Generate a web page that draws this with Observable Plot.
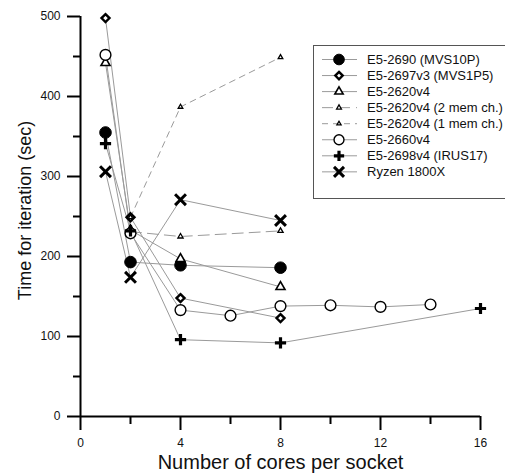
<!DOCTYPE html>
<html><head><meta charset="utf-8">
<script src="https://cdn.jsdelivr.net/npm/d3@7"></script>
<script src="https://cdn.jsdelivr.net/npm/@observablehq/plot@0.6"></script>
<style>
body{margin:0;background:#fff}
#chart svg{font-family:"Liberation Sans",Arial,sans-serif;display:block}
</style>
</head><body><div id="chart"></div>
<script>
// Series names (legend order)
const seriesNames = ["E5-2690 (MVS10P)", "E5-2697v3 (MVS1P5)", "E5-2620v4", "E5-2620v4 (2 mem ch.)", "E5-2620v4 (1 mem ch.)", "E5-2660v4", "E5-2698v4 (IRUS17)", "Ryzen 1800X"];

// Cores per socket and time per iteration (sec) for each series
const cores2690 = [1, 2, 4, 8];
const time2690 = [355, 193, 189, 186];
const cores2697 = [1, 2, 4, 8];
const time2697 = [498, 249, 148, 123];
const cores2620 = [1, 2, 4, 8];
const time2620 = [442, 233, 197, 162];
const cores2620m2 = [2, 4, 8];
const time2620m2 = [231, 225, 232];
const cores2620m1 = [2, 4, 8];
const time2620m1 = [249, 387, 449];
const cores2660 = [1, 2, 4, 6, 8, 10, 12, 14];
const time2660 = [452, 229, 133, 126, 138, 139, 137, 140];
const cores2698 = [1, 2, 4, 8, 16];
const time2698 = [341, 232, 96, 92, 135];
const coresRyzen = [1, 2, 4, 8];
const timeRyzen = [306, 174, 271, 245];

const xTicks = [0, 4, 8, 12, 16];
const xMinor = [2, 6, 10, 14];
const yTicks = [0, 100, 200, 300, 400, 500];
const yMinor = [50, 150, 250, 350, 450];

const allCores = [cores2690, cores2697, cores2620, cores2620m2, cores2620m1, cores2660, cores2698, coresRyzen];
const allTimes = [time2690, time2697, time2620, time2620m2, time2620m1, time2660, time2698, timeRyzen];

// styles per series
const styles = [
  {symbol: "circle", r: 5.8, fill: "black", stroke: "black", strokeWidth: 1, dash: null},
  {symbol: "diamond2", r: 3.6, fill: "white", stroke: "black", strokeWidth: 2.4, dash: null},
  {symbol: "triangle2", r: 4.3, fill: "white", stroke: "black", strokeWidth: 1.6, dash: null},
  {symbol: "triangle2", r: 2.5, fill: "white", stroke: "black", strokeWidth: 1.3, dash: "11,6"},
  {symbol: "triangle2", r: 2.2, fill: "white", stroke: "black", strokeWidth: 1.3, dash: "6,5"},
  {symbol: "circle", r: 5.4, fill: "white", stroke: "black", strokeWidth: 1.4, dash: null},
  {symbol: "plus", r: 3.7, fill: "none", stroke: "black", strokeWidth: 3.2, dash: null},
  {symbol: "times", r: 5.0, fill: "none", stroke: "black", strokeWidth: 3, dash: null}
];

const rows = seriesNames.map((name, i) => allCores[i].map((c, j) => ({series: name, cores: c, time: allTimes[i][j]})));

const marks = [];
// lines
rows.forEach((data, i) => {
  marks.push(Plot.line(data, {x: "cores", y: "time", stroke: "#9a9a9a", strokeWidth: 1, strokeDasharray: styles[i].dash || undefined}));
});
// axes lines and ticks
marks.push(Plot.ruleY([0], {stroke: "black", strokeWidth: 2}));
marks.push(Plot.ruleX([0], {stroke: "black", strokeWidth: 2}));
marks.push(Plot.axisX({ticks: xTicks, tickSize: 14, tickPadding: 8, strokeWidth: 2, fontSize: 12, fill: "#111", label: null}));
marks.push(Plot.tickX(xMinor, {x: d => d, insetTop: 400, insetBottom: -8, stroke: "black", strokeWidth: 2}));
marks.push(Plot.axisY({ticks: yTicks, tickSize: 13, tickPadding: 7, strokeWidth: 2, fontSize: 12, fill: "#111", label: null}));
marks.push(Plot.tickY(yMinor, {y: d => d, insetLeft: -7, insetRight: 400, stroke: "black", strokeWidth: 2}));
// dots
rows.forEach((data, i) => {
  const s = styles[i];
  marks.push(Plot.dot(data, {x: "cores", y: "time", symbol: () => s.symbol, r: s.r, fill: s.fill, stroke: s.stroke, strokeWidth: s.strokeWidth}));
});
// axis titles
marks.push(Plot.text(["Time for iteration (sec)"], {frameAnchor: "left", textAnchor: "middle", lineAnchor: "middle", dx: -55, dy: -6, rotate: -90, fontSize: 18, fill: "#111", text: d => d}));
marks.push(Plot.text(["Number of cores per socket"], {frameAnchor: "bottom", textAnchor: "middle", lineAnchor: "middle", dy: 46, fontSize: 20, fill: "#111", text: d => d}));

const chart = Plot.plot({
  width: 505,
  height: 474,
  marginLeft: 80,
  marginRight: 25,
  marginTop: 16,
  marginBottom: 58,
  x: {domain: [0, 16]},
  y: {domain: [0, 500]},
  symbol: {type: "identity"},
  style: {background: "white", fontFamily: "Liberation Sans, Arial, sans-serif"},
  marks
});
document.getElementById("chart").appendChild(chart);

// legend
const svg = d3.select(chart);
const lg = svg.append("g").attr("class", "legend").attr("text-anchor", "start");
lg.append("rect").attr("x", 313.5).attr("y", 45.5).attr("width", 210).attr("height", 153)
  .attr("fill", "white").attr("stroke", "#555").attr("stroke-width", 1);
const symMap = {circle: d3.symbolCircle, diamond2: d3.symbolDiamond2, triangle2: d3.symbolTriangle2, plus: d3.symbolPlus, times: d3.symbolTimes};
seriesNames.forEach((name, i) => {
  const s = styles[i];
  const y = 59.5 + i * 16.05;
  lg.append("line").attr("x1", 322).attr("x2", 357).attr("y1", y).attr("y2", y)
    .attr("stroke", "#9a9a9a").attr("stroke-width", 1).attr("stroke-dasharray", s.dash);
  const sz = s.r * s.r * Math.PI * 0.85;
  if (s.symbol === "circle") {
    lg.append("circle").attr("cx", 339).attr("cy", y).attr("r", s.r * 0.92)
      .attr("fill", s.fill).attr("stroke", s.stroke).attr("stroke-width", s.strokeWidth);
  } else {
    lg.append("path").attr("transform", `translate(339,${y})`).attr("d", d3.symbol(symMap[s.symbol], sz)())
      .attr("fill", s.fill).attr("stroke", s.stroke).attr("stroke-width", s.strokeWidth);
  }
  lg.append("text").attr("x", 367).attr("y", y).attr("dy", "0.35em").attr("text-anchor", "start")
    .attr("font-size", 13).attr("fill", "#111").text(name);
});
</script>
</body></html>
